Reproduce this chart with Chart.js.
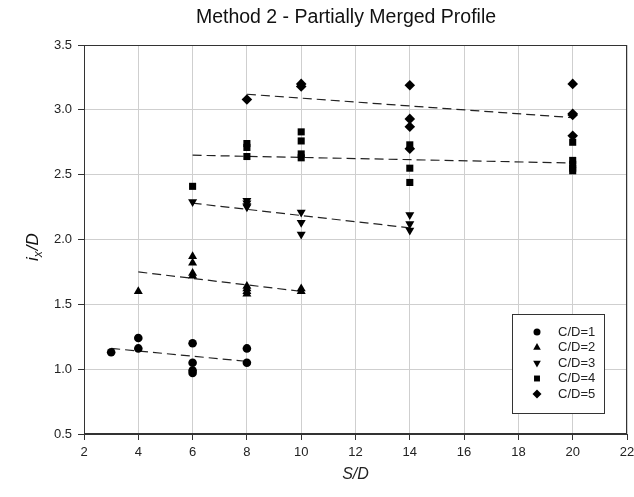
<!DOCTYPE html>
<html>
<head>
<meta charset="utf-8">
<script src="https://cdn.jsdelivr.net/npm/chart.js@4.4.0/dist/chart.umd.min.js"></script>
<style>
  html, body { margin: 0; padding: 0; background: #fff; }
  #wrap { width: 634px; height: 497px; position: relative; }
</style>
</head>
<body>
<div id="wrap"><canvas id="plot"></canvas></div>
<script>
// S/D and i_x/D, one pair of arrays per C/D series
const cd1X = [3, 4, 4, 6, 6, 6, 6, 8, 8];
const cd1Y = [1.13, 1.24, 1.16, 1.20, 1.05, 0.99, 0.97, 1.16, 1.05];
const cd2X = [4, 6, 6, 6, 6, 8, 8, 8, 8, 10, 10];
const cd2Y = [1.60, 1.87, 1.82, 1.74, 1.72, 1.64, 1.62, 1.60, 1.58, 1.62, 1.60];
const cd3X = [6, 8, 8, 8, 8, 10, 10, 10, 14, 14, 14];
const cd3Y = [2.29, 2.30, 2.28, 2.26, 2.25, 2.21, 2.13, 2.04, 2.19, 2.12, 2.07];
const cd4X = [6, 8, 8, 8, 10, 10, 10, 10, 14, 14, 14, 20, 20, 20, 20, 20];
const cd4Y = [2.41, 2.74, 2.71, 2.64, 2.83, 2.76, 2.66, 2.63, 2.73, 2.55, 2.44, 2.75, 2.61, 2.58, 2.55, 2.53];
const cd5X = [8, 10, 10, 14, 14, 14, 14, 20, 20, 20, 20];
const cd5Y = [3.08, 3.20, 3.18, 3.19, 2.93, 2.87, 2.70, 3.20, 2.97, 2.96, 2.80];

// dashed trend lines (end points)
const trend1X = [3, 8],  trend1Y = [1.16, 1.06];
const trend2X = [4, 10], trend2Y = [1.75, 1.60];
const trend3X = [6, 14], trend3Y = [2.28, 2.09];
const trend4X = [6, 20], trend4Y = [2.65, 2.59];
const trend5X = [8, 20], trend5Y = [3.12, 2.94];

const seriesNames = ["C/D=1", "C/D=2", "C/D=3", "C/D=4", "C/D=5"];
const xTicks = [2, 4, 6, 8, 10, 12, 14, 16, 18, 20, 22];
const yTicks = [0.5, 1.0, 1.5, 2.0, 2.5, 3.0, 3.5];

const FONT = "'Liberation Sans', Arial, sans-serif";

function pts(xs, ys) {
  return xs.map((x, i) => ({ x: x, y: ys[i] }));
}

const markers = [
  { style: "circle", r: 4.3, rot: 0 },
  { style: "triangle", r: 5.2, rot: 0 },
  { style: "triangle", r: 5.2, rot: 180 },
  { style: "rect", r: 5, rot: 0 },
  { style: "rectRot", r: 5.3, rot: 0 },
];

const allX = [cd1X, cd2X, cd3X, cd4X, cd5X];
const allY = [cd1Y, cd2Y, cd3Y, cd4Y, cd5Y];
const trX = [trend1X, trend2X, trend3X, trend4X, trend5X];
const trY = [trend1Y, trend2Y, trend3Y, trend4Y, trend5Y];

const datasets = [];
seriesNames.forEach((name, i) => {
  datasets.push({
    type: "scatter",
    label: name,
    data: pts(allX[i], allY[i]),
    pointStyle: markers[i].style,
    pointRadius: markers[i].r,
    rotation: markers[i].rot,
    backgroundColor: "#000",
    borderColor: "#000",
    borderWidth: 0,
    order: 1,
  });
});
seriesNames.forEach((name, i) => {
  datasets.push({
    type: "line",
    label: "trend " + name,
    data: pts(trX[i], trY[i]),
    borderColor: "#222",
    borderWidth: 1.2,
    borderDash: [9, 5],
    pointRadius: 0,
    fill: false,
    order: 2,
  });
});

// frame, titles and the boxed legend
const extras = {
  id: "extras",
  afterDraw(chart) {
    const c = chart.ctx, a = chart.chartArea;
    c.save();
    c.strokeStyle = "#333";
    c.lineWidth = 1;
    c.strokeRect(a.left + 0.5, a.top + 0.5, a.right - a.left - 1, a.bottom - a.top - 1);

    c.fillStyle = "#111";
    c.font = "19.5px " + FONT;
    c.textAlign = "center";
    c.textBaseline = "middle";
    c.fillText("Method 2 - Partially Merged Profile", 346, 18);

    // y axis title i_x/D
    c.translate(32, 240);
    c.rotate(-Math.PI / 2);
    c.textAlign = "left";
    c.textBaseline = "alphabetic";
    c.font = "italic 17px " + FONT;
    const w1 = c.measureText("i").width;
    c.fillText("i", -21, 6);
    c.font = "italic 12px " + FONT;
    const w2 = c.measureText("x").width;
    c.fillText("x", -21 + w1, 10);
    c.font = "italic 17px " + FONT;
    c.fillText("/D", -21 + w1 + w2 + 1, 6);
    c.restore();

    // legend
    c.save();
    const lx = 512, ly = 314, lw = 92, lh = 99;
    c.fillStyle = "#fff";
    c.fillRect(lx, ly, lw, lh);
    c.strokeStyle = "#333";
    c.lineWidth = 1;
    c.strokeRect(lx + 0.5, ly + 0.5, lw, lh);
    c.font = "13px " + FONT;
    c.textAlign = "left";
    c.textBaseline = "middle";
    seriesNames.forEach((name, i) => {
      const y = ly + 18 + i * 15.5;
      c.fillStyle = "#000";
      c.strokeStyle = "#000";
      Chart.helpers.drawPoint(c, {
        pointStyle: markers[i].style,
        radius: markers[i].r - 0.8,
        rotation: markers[i].rot,
        borderWidth: 0,
      }, 537, y);
      c.fillStyle = "#222";
      c.fillText(name, 558, y);
    });
    c.restore();
  },
};

new Chart(document.getElementById("plot"), {
  data: { datasets: datasets },
  options: {
    responsive: true,
    maintainAspectRatio: false,
    animation: false,
    layout: { padding: { left: 0, top: 45, right: 0, bottom: 0 } },
    plugins: {
      legend: { display: false },
      tooltip: { enabled: false },
    },
    scales: {
      x: {
        type: "linear",
        min: 2,
        max: 22,
        afterBuildTicks: (s) => { s.ticks = xTicks.map((v) => ({ value: v })); },
        afterFit: (s) => { s.height = 63; s.paddingRight = 7; s.paddingLeft = 0; },
        ticks: {
          color: "#222",
          font: { family: FONT, size: 13 },
          padding: 5,
          maxRotation: 0,
          callback: (v) => v,
        },
        grid: { color: "#cfcfcf", tickColor: "#333", tickLength: 6, lineWidth: 1 },
        border: { color: "#333", width: 1 },
        title: {
          display: true,
          text: "S/D",
          color: "#222",
          font: { family: FONT, size: 16, style: "italic" },
          padding: { top: 0, bottom: 13 },
        },
      },
      y: {
        type: "linear",
        min: 0.5,
        max: 3.5,
        afterBuildTicks: (s) => { s.ticks = yTicks.map((v) => ({ value: v })); },
        afterFit: (s) => { s.width = 84; },
        ticks: {
          color: "#222",
          font: { family: FONT, size: 13 },
          padding: 6,
          callback: (v) => v.toFixed(1),
        },
        grid: { color: "#cfcfcf", tickColor: "#333", tickLength: 6, lineWidth: 1 },
        border: { color: "#333", width: 1 },
      },
    },
  },
  plugins: [extras],
});
</script>
</body>
</html>
